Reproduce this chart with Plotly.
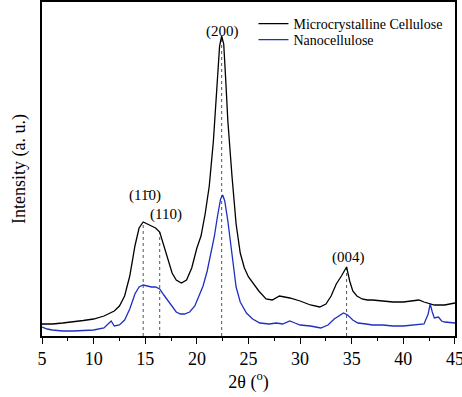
import plotly.graph_objects as go

mcc_x = [5, 6, 7, 8, 9, 10, 11, 12, 12.5, 13, 13.5, 14, 14.4, 14.8, 15.2, 15.6, 16.0, 16.4, 16.8, 17.2,
         17.6, 18.0, 18.5, 19.0, 19.5, 20.0, 20.4, 20.8, 21.2, 21.6, 22.0, 22.2, 22.4, 22.6, 22.8, 23.0,
         23.4, 23.8, 24.2, 24.6, 25.0, 25.5, 26, 26.7, 27.3, 28, 29, 30, 31, 31.9, 32.5, 33, 33.5, 34,
         34.5, 34.8, 35.1, 35.5, 36, 36.5, 37, 38, 39, 40, 41, 41.5, 42, 43, 43.5, 44, 45]
mcc_y = [12, 12, 13, 14, 15.5, 17, 20, 25, 30, 40, 60, 90, 108, 114, 112, 110, 108, 104, 90, 75,
         63, 56, 53, 56, 68, 88, 100, 122, 150, 195, 260, 290, 300, 292, 255, 215,
         160, 112, 83, 68, 59, 52, 45, 37, 36, 40, 38, 35, 31, 29, 32, 40, 52, 60,
         69, 55, 45, 40, 37, 36, 36, 35, 34, 34, 35, 36, 34, 31, 31, 31, 33]

nano_x = [5, 5.5, 6, 7, 8, 9, 10, 11, 11.4, 11.7, 12, 12.5, 13, 13.5, 14, 14.4, 14.8, 15.2, 15.6, 16.0,
          16.4, 16.8, 17.2, 17.6, 18.0, 18.4, 18.8, 19.3, 19.8, 20.2, 20.6, 21.0, 21.4, 21.7, 22.0, 22.3,
          22.5, 22.7, 23.0, 23.2, 23.5, 23.8, 24.2, 24.8, 25.4, 26.1, 27, 27.7, 28.3, 29, 29.5, 30, 31,
          32, 32.7, 33.3, 34.2, 34.6, 35.1, 35.6, 36.4, 37, 38, 39, 40, 41.3, 42, 42.4, 42.6, 42.8, 43.0,
          43.4, 43.7, 44, 45]
nano_y = [9, 7, 6, 5, 5, 5.5, 6, 8, 12, 15, 10, 11, 16, 27, 42, 49, 51, 50, 49, 49,
          47, 41, 35, 29, 24, 22, 22, 24, 30, 40, 50, 65, 85, 100, 120, 137,
          141, 135, 115, 99, 72, 49, 34, 23, 17, 13, 12, 13, 12, 15, 13, 11, 10,
          8, 11, 17, 23, 21, 16, 13, 12, 11, 11, 10, 10, 11, 12, 22, 32, 24, 18,
          19, 15, 14, 13]

peak_pos = [14.8, 16.4, 22.4, 34.5]
peak_top = [114, 104, 300, 69]
label_text = ["(11\u03040)", "(110)", "(200)", "(004)"]
label_x = [15.0, 17.0, 22.5, 34.7]
label_y = [141, 122, 305, 79]
x_ticks = [5, 10, 15, 20, 25, 30, 35, 40, 45]

font = "Liberation Serif"

fig = go.Figure()
fig.add_trace(go.Scatter(x=mcc_x, y=mcc_y, mode="lines", name="Microcrystalline Cellulose",
                         line=dict(color="black", width=1.3), legend="legend"))
fig.add_trace(go.Scatter(x=nano_x, y=nano_y, mode="lines", name="Nanocellulose",
                         line=dict(color="#1f2fbf", width=1.3), legend="legend2"))

for px, pt in zip(peak_pos, peak_top):
    fig.add_shape(type="line", x0=px, x1=px, y0=0, y1=pt, xref="x", yref="y",
                  line=dict(color="#555555", width=1, dash="dot"), layer="below")

for t, lx, ly in zip(label_text, label_x, label_y):
    fig.add_annotation(x=lx, y=ly, text=t, showarrow=False, xref="x", yref="y",
                       font=dict(family=font, size=15, color="black"))

leg_common = dict(xanchor="left", yanchor="middle", bgcolor="rgba(0,0,0,0)",
                  font=dict(family=font, size=14), itemwidth=30)

fig.update_layout(
    width=462, height=397,
    margin=dict(l=42, r=7, t=2, b=61, autoexpand=False),
    paper_bgcolor="white", plot_bgcolor="white",
    font=dict(family=font, color="black"),
    showlegend=True,
    legend=dict(x=0.512, y=0.934, **leg_common),
    legend2=dict(x=0.512, y=0.886, **leg_common),
    xaxis=dict(range=[4.999, 45.001], tickmode="array", tickvals=x_ticks,
               ticktext=[str(v) for v in x_ticks], ticklabeloverflow="allow", automargin=False,
               ticks="outside", ticklen=6, tickwidth=1.2, tickcolor="black",
               minor=dict(ticks="outside", ticklen=3, tickwidth=1.2, tickcolor="black", dtick=2.5, tick0=5),
               showline=True, linecolor="black", linewidth=1.5, mirror=True,
               showgrid=False, zeroline=False,
               tickfont=dict(family=font, size=18),
               title=dict(text="2θ (<sup>o</sup>)", font=dict(family=font, size=18), standoff=6)),
    yaxis=dict(range=[0, 334], showticklabels=False, ticks="", automargin=False,
               showline=True, linecolor="black", linewidth=1.5, mirror=True,
               showgrid=False, zeroline=False,
               title=dict(text="Intensity (a. u.)", font=dict(family=font, size=18), standoff=10)),
)

fig.write_html("out.html")
